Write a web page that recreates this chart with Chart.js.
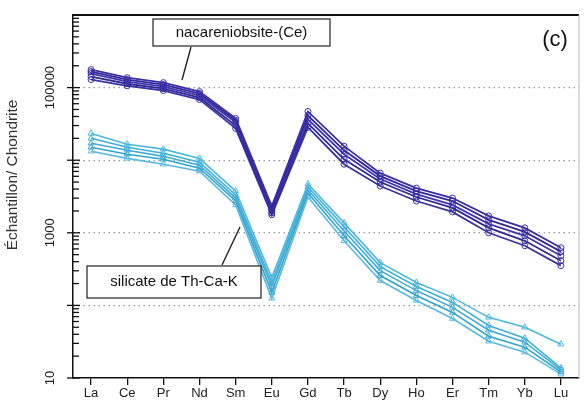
<!DOCTYPE html>
<html>
<head>
<meta charset="utf-8">
<script src="https://cdn.jsdelivr.net/npm/chart.js@4/dist/chart.umd.min.js"></script>
<style>
  html, body { margin: 0; padding: 0; background: #fff; }
  #wrap { width: 584px; height: 401px; }
</style>
</head>
<body>
<div id="wrap"><canvas id="c" width="584" height="401"></canvas></div>
<script>
// Terres rares (axe x)
const elements = ["La", "Ce", "Pr", "Nd", "Sm", "Eu", "Gd", "Tb", "Dy", "Ho", "Er", "Tm", "Yb", "Lu"]

// nacareniobsite-(Ce), 5 analyses normalisées chondrite
const nac1 = [177000, 137000, 117000, 88100, 37600, 2340, 46900, 15600, 6640, 4130, 3010, 1710, 1170, 623]
const nac2 = [166000, 129000, 110000, 82800, 35300, 2130, 41300, 13700, 6040, 3760, 2740, 1510, 1030, 550]
const nac3 = [156000, 121000, 103000, 77600, 33200, 2000, 36500, 12100, 5500, 3420, 2420, 1330, 910, 484]
const nac4 = [142000, 113000, 96800, 72900, 30100, 1880, 32100, 10300, 5000, 3110, 2200, 1170, 776, 413]
const nac5 = [129000, 106000, 91000, 68500, 27400, 1770, 28300, 8810, 4410, 2740, 1940, 1000, 664, 353]

// silicate de Th-Ca-K, 5 analyses
const sil1 = [23400, 16600, 14200, 10600, 3760, 242, 4690, 1370, 388, 207, 129, 68.5, 50, 29.2]
const sil2 = [20000, 15100, 12500, 9390, 3320, 207, 4270, 1210, 342, 182, 110, 53, 35.3, 13.7]
const sil3 = [17100, 13700, 11300, 8550, 3010, 182, 3880, 1060, 301, 160, 94, 45.5, 31.1, 12.9]
const sil4 = [15100, 12100, 10300, 7760, 2740, 151, 3530, 910, 258, 137, 80, 37.6, 26.6, 12.1]
const sil5 = [13300, 10600, 8810, 7070, 2420, 125, 3110, 776, 220, 117, 66, 32.1, 22.7, 11.3]

// ticks de l'axe y
const yLabels = [10, 1000, 100000]
const yGrid = [100, 1000, 10000, 100000]

const darkColors = ["#3a2fa4", "#33289a", "#4034b0", "#2f2a92", "#3b32a6"]
const lightColors = ["#4fb6df", "#3fb0d8", "#45a9d6", "#2fa6c8", "#5ab9e3"]

function darkSet(data, i) {
  return {
    data: data,
    borderColor: darkColors[i],
    backgroundColor: "rgba(255,255,255,0)",
    borderWidth: 1.8,
    pointStyle: "circle",
    pointRadius: 3,
    pointBorderWidth: 1,
    pointBorderColor: darkColors[i],
    tension: 0,
  }
}

function lightSet(data, i) {
  return {
    data: data,
    borderColor: lightColors[i],
    backgroundColor: "rgba(255,255,255,0)",
    borderWidth: 1.6,
    pointStyle: "triangle",
    pointRadius: 3.5,
    pointBorderWidth: 1,
    pointBorderColor: lightColors[i],
    tension: 0,
  }
}

// Plugin : cadre, ticks intérieurs, étiquettes tournées, annotations
const decor = {
  id: "decor",
  afterDraw(chart) {
    const { ctx, chartArea: a } = chart
    const y = chart.scales.y
    ctx.save()

    // ticks mineurs et majeurs sur l'axe y
    ctx.strokeStyle = "#111"
    ctx.lineWidth = 1.3
    for (let e = 1; e <= 5; e++) {
      for (let m = 1; m <= 9; m++) {
        const v = m * Math.pow(10, e)
        const py = y.getPixelForValue(v)
        if (py < a.top || py > a.bottom) continue
        ctx.beginPath()
        if (m === 1) {
          ctx.moveTo(a.left - 6, py)
          ctx.lineTo(a.left + 7, py)
        } else {
          ctx.moveTo(a.left, py)
          ctx.lineTo(a.left + 6, py)
        }
        ctx.stroke()
      }
    }

    // labels y tournés
    ctx.fillStyle = "#222"
    ctx.font = "13px 'Liberation Sans', Arial, sans-serif"
    ctx.textAlign = "center"
    ctx.textBaseline = "middle"
    yLabels.forEach(v => {
      const py = y.getPixelForValue(v)
      ctx.save()
      ctx.translate(a.left - 23, py)
      ctx.rotate(-Math.PI / 2)
      ctx.fillText(String(v), 0, 0)
      ctx.restore()
    })

    // titre de l'axe y
    ctx.save()
    ctx.translate(13, 175)
    ctx.rotate(-Math.PI / 2)
    ctx.font = "14px 'Liberation Sans', Arial, sans-serif"
    ctx.fillStyle = "#333"
    ctx.scale(1.1, 1)
    ctx.fillText("Échantillon/ Chondrite", 0, 0)
    ctx.restore()

    // bord haut épais et bord droit fin
    ctx.strokeStyle = "#111"
    ctx.lineWidth = 2
    ctx.beginPath()
    ctx.moveTo(a.left, a.top)
    ctx.lineTo(a.right, a.top)
    ctx.stroke()
    ctx.strokeStyle = "#bbb"
    ctx.lineWidth = 1
    ctx.beginPath()
    ctx.moveTo(a.right, a.top)
    ctx.lineTo(a.right, a.bottom)
    ctx.stroke()

    // (c)
    ctx.fillStyle = "#111"
    ctx.font = "22px 'Liberation Sans', Arial, sans-serif"
    ctx.fillText("(c)", 555, 40)

    // boîtes d'annotation
    ctx.font = "15px 'Liberation Sans', Arial, sans-serif"
    ctx.lineWidth = 1.2
    ctx.strokeStyle = "#222"
    ctx.fillStyle = "#fff"
    ctx.fillRect(153, 19, 177, 27)
    ctx.strokeRect(153, 19, 177, 27)
    ctx.fillRect(87, 266, 174, 32)
    ctx.strokeRect(87, 266, 174, 32)
    ctx.fillStyle = "#111"
    ctx.fillText("nacareniobsite-(Ce)", 241.5, 33)
    ctx.fillText("silicate de Th-Ca-K", 174, 282)

    // traits de rappel
    ctx.lineWidth = 1.4
    ctx.beginPath()
    ctx.moveTo(191, 47)
    ctx.lineTo(182, 80)
    ctx.moveTo(222, 265)
    ctx.lineTo(240, 227)
    ctx.stroke()

    ctx.restore()
  }
}

new Chart(document.getElementById("c"), {
  type: "line",
  data: {
    labels: elements,
    datasets: [
      lightSet(sil1, 0), lightSet(sil2, 1), lightSet(sil3, 2), lightSet(sil4, 3), lightSet(sil5, 4),
      darkSet(nac1, 0), darkSet(nac2, 1), darkSet(nac3, 2), darkSet(nac4, 3), darkSet(nac5, 4),
    ],
  },
  options: {
    responsive: false,
    animation: false,
    layout: { padding: { top: 15, right: 2, left: 0, bottom: 0 } },
    plugins: {
      legend: { display: false },
      tooltip: { enabled: false },
    },
    scales: {
      x: {
        type: "category",
        offset: true,
        border: { display: true, color: "#111", width: 1.5 },
        grid: { drawOnChartArea: false, drawTicks: true, tickLength: 7, color: "#111", lineWidth: 1.3 },
        ticks: {
          color: "#222",
          padding: 1,
          maxRotation: 0,
          font: { family: "'Liberation Sans', Arial, sans-serif", size: 13 },
        },
        afterFit(scale) { scale.height = 23 },
      },
      y: {
        type: "logarithmic",
        min: 10,
        max: 1000000,
        grid: {
          drawTicks: false,
          color: ctx => yGrid.includes(ctx.tick.value) ? "#9a9a9a" : "rgba(0,0,0,0)",
          lineWidth: 1.3,
        },
        // en v4, border.dash s'applique aux lignes de grille
        border: { display: true, color: "#111", width: 1.5, dash: [1.5, 3.5] },
        ticks: { display: false },
        afterBuildTicks(scale) {
          scale.ticks = [10, 100, 1000, 10000, 100000, 1000000].map(v => ({ value: v }))
        },
        afterFit(scale) { scale.width = 73 },
      },
    },
  },
  plugins: [decor],
})
</script>
</body>
</html>
